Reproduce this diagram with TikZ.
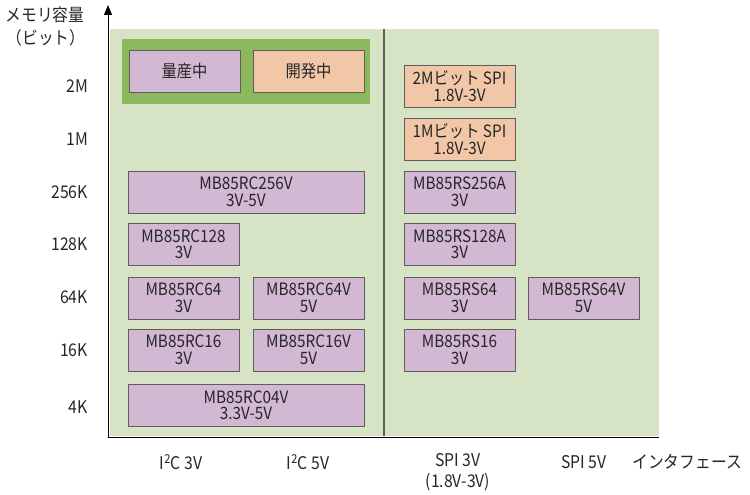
\documentclass[tikz,border=0pt]{standalone}
\usepackage{fontspec}
\setmainfont{Noto Sans CJK JP}[FakeStretch=0.9]
\usetikzlibrary{arrows.meta}
\definecolor{bglight}{HTML}{D6E3C4}
\definecolor{bgdark}{HTML}{8DB85B}
\definecolor{prod}{HTML}{D3B8D3}
\definecolor{devl}{HTML}{F2C7A8}
\definecolor{edge}{HTML}{5E5E5E}
\definecolor{txt}{HTML}{262626}
\tikzset{
  pbox/.style={draw=edge, line width=0.9pt, fill=prod, minimum width=111pt, minimum height=42pt,
    inner sep=0pt, align=center, text=txt, font=\fontsize{17}{16.5}\selectfont},
  dbox/.style={pbox, fill=devl},
  wbox/.style={pbox, minimum width=236pt},
  lab/.style={inner sep=0pt, text=txt, font=\fontsize{17.5}{20}\selectfont},
  rlab/.style={lab, anchor=east}
}
\begin{document}
\begin{tikzpicture}[x=1pt,y=-1pt]
\useasboundingbox (0,0) rectangle (750,495);
% backgrounds
\fill[bglight] (110,29) rectangle (659,436);
\fill[bgdark] (122,39) rectangle (370,104);
\draw[edge, line width=1.5pt] (384,29) -- (384,436);
% axes
\coordinate (org) at (108,437);
\coordinate (ytop) at (108,5);
\coordinate (xend) at (659,437);
\draw[black, line width=1pt, -{Triangle[length=10pt,width=8pt]}] (org) -- (ytop);
\draw[black, line width=1pt] (org) -- (xend);
% legend
\node[pbox] (leg1) at (184.5,71) {量産中};
\node[dbox] (leg2) at (308.5,71) {開発中};
% SPI development
\node[dbox] (spi2m) at (459.5,86) {2Mビット SPI\\1.8V-3V};
\node[dbox] (spi1m) at (459.5,139) {1Mビット SPI\\1.8V-3V};
% products
\node[wbox] (rc256v) at (246,192) {MB85RC256V\\3V-5V};
\node[pbox] (rs256a) at (459.5,192) {MB85RS256A\\3V};
\node[pbox] (rc128) at (183.5,244.5) {MB85RC128\\3V};
\node[pbox] (rs128a) at (459.5,244.5) {MB85RS128A\\3V};
\node[pbox] (rc64) at (183.5,298) {MB85RC64\\3V};
\node[pbox] (rc64v) at (308.5,298) {MB85RC64V\\5V};
\node[pbox] (rs64) at (459.5,298) {MB85RS64\\3V};
\node[pbox] (rs64v) at (583.5,298) {MB85RS64V\\5V};
\node[pbox] (rc16) at (183.5,350) {MB85RC16\\3V};
\node[pbox] (rc16v) at (308.5,350) {MB85RC16V\\5V};
\node[pbox] (rs16) at (459.5,350) {MB85RS16\\3V};
\node[wbox] (rc04v) at (246,405.5) {MB85RC04V\\3.3V-5V};
% y labels
\node[lab] (ytitle1) at (45,15) {メモリ容量};
\node[lab] (ytitle2) at (46,38) {（ビット）};
\node[rlab] (r2m) at (88,86) {2M};
\node[rlab] (r1m) at (88,139) {1M};
\node[rlab] (r256) at (88,192) {256K};
\node[rlab] (r128) at (88,244) {128K};
\node[rlab] (r64) at (88,297) {64K};
\node[rlab] (r16) at (88,350) {16K};
\node[rlab] (r4) at (88,407) {4K};
% x labels
\node[lab] (xi2c3) at (181,462) {I\textsuperscript{2}C 3V};
\node[lab] (xi2c5) at (308,462) {I\textsuperscript{2}C 5V};
\node[lab, align=center, font=\fontsize{17.5}{21}\selectfont] (xspi3) at (458,472) {SPI 3V\\(1.8V-3V)};
\node[lab] (xspi5) at (584,462) {SPI 5V};
\node[lab] (xif) at (687,462) {インタフェース};
\end{tikzpicture}
\end{document}
